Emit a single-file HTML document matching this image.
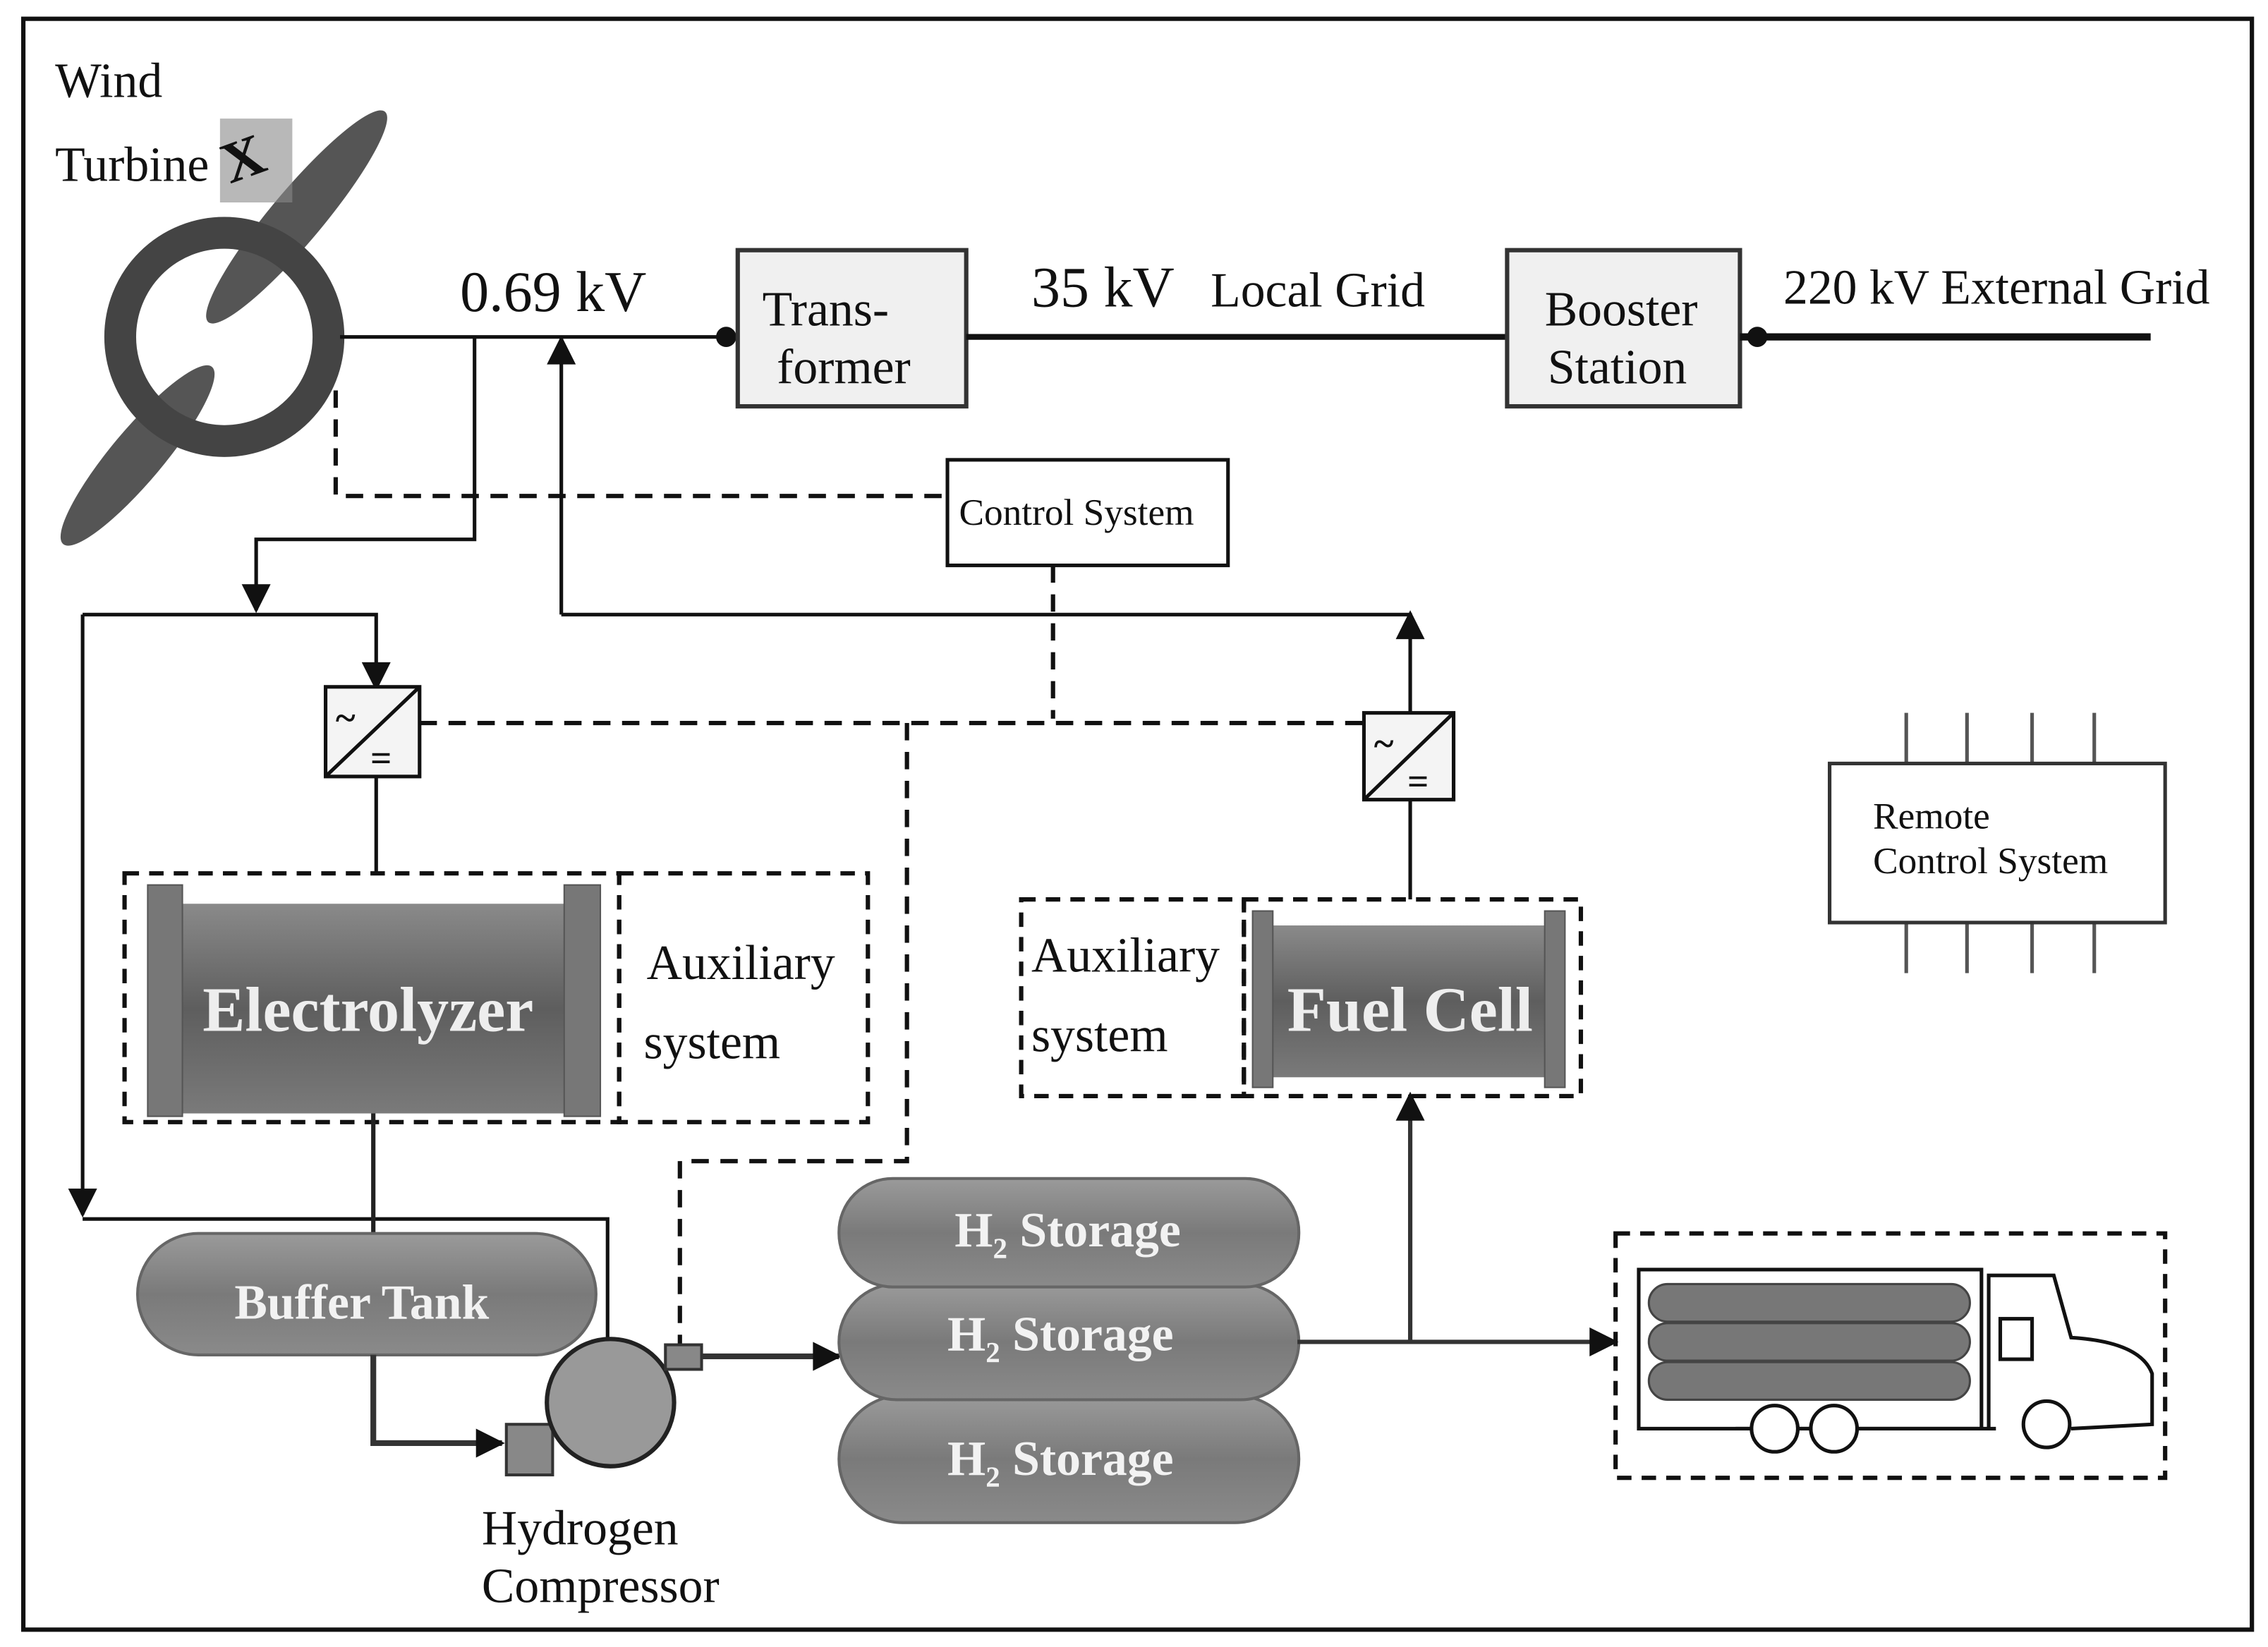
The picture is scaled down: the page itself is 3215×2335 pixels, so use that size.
<!DOCTYPE html>
<html><head><meta charset="utf-8"><style>
html,body{margin:0;padding:0;background:#fff;}
svg{display:block;}
text{font-family:"Liberation Serif",serif;}
</style></head><body>
<svg width="3215" height="2335" viewBox="0 0 1568 1139" xmlns="http://www.w3.org/2000/svg">
<defs>
<marker id="ah" viewBox="0 0 10 10" refX="9" refY="5" markerWidth="22" markerHeight="20" orient="auto-start-reverse" markerUnits="userSpaceOnUse"><path d="M0,0 L10,5 L0,10 z" fill="#111"/></marker>
<linearGradient id="g1" x1="0" y1="0" x2="0" y2="1"><stop offset="0" stop-color="#8a8a8a"/><stop offset="0.5" stop-color="#5e5e5e"/><stop offset="1" stop-color="#7a7a7a"/></linearGradient>
<linearGradient id="g2" x1="0" y1="0" x2="0" y2="1"><stop offset="0" stop-color="#9a9a9a"/><stop offset="0.5" stop-color="#7a7a7a"/><stop offset="1" stop-color="#8a8a8a"/></linearGradient>
</defs>
<rect x="0" y="0" width="1568" height="1139" fill="#fff"/>
<rect x="16" y="13" width="1541" height="1114" fill="none" stroke="#111" stroke-width="3"/>

<!-- wind turbine -->
<g>
<ellipse cx="205" cy="150" rx="18" ry="95" fill="#555" transform="rotate(40 205 150)"/>
<ellipse cx="95" cy="315" rx="18" ry="80" fill="#555" transform="rotate(40 95 315)"/>
<circle cx="155" cy="233" r="72" fill="none" stroke="#444" stroke-width="22"/>
<rect x="152" y="82" width="50" height="58" fill="#888" opacity="0.6"/>
<text x="152" y="122" font-size="40" font-weight="bold" fill="#111" transform="rotate(-20 170 105)">X</text>
</g>
<text x="38" y="67" font-size="34" fill="#111">Wind</text>
<text x="38" y="125" font-size="34" fill="#111">Turbine</text>

<!-- top line -->
<line x1="235" y1="233" x2="510" y2="233" stroke="#111" stroke-width="2.5"/>
<circle cx="502" cy="233" r="7" fill="#111"/>
<text x="318" y="215" font-size="40" fill="#111">0.69 kV</text>
<rect x="510" y="173" width="158" height="108" fill="#f0f0f0" stroke="#333" stroke-width="3"/>
<text x="527" y="225" font-size="34" fill="#111">Trans-</text>
<text x="537" y="265" font-size="34" fill="#111">former</text>
<line x1="668" y1="233" x2="1042" y2="233" stroke="#111" stroke-width="4"/>
<text x="713" y="212" font-size="40" fill="#111">35 kV</text>
<text x="837" y="212" font-size="34" fill="#111">Local Grid</text>
<rect x="1042" y="173" width="161" height="108" fill="#f0f0f0" stroke="#333" stroke-width="3"/>
<text x="1068" y="225" font-size="34" fill="#111">Booster</text>
<text x="1070" y="265" font-size="34" fill="#111">Station</text>
<line x1="1203" y1="233" x2="1487" y2="233" stroke="#111" stroke-width="5"/>
<circle cx="1215" cy="233" r="7" fill="#111"/>
<text x="1233" y="210" font-size="34" fill="#111">220 kV External Grid</text>

<!-- control system -->
<path d="M232,270 V343 H655" fill="none" stroke="#111" stroke-width="3" stroke-dasharray="12,8"/>
<rect x="655" y="318" width="194" height="73" fill="#fff" stroke="#111" stroke-width="2.5"/>
<text x="663" y="363" font-size="26" fill="#111">Control System</text>
<path d="M728,391 V497" fill="none" stroke="#111" stroke-width="3" stroke-dasharray="12,8"/>
<path d="M290,500 H942" fill="none" stroke="#111" stroke-width="3" stroke-dasharray="12,8"/>
<path d="M627,500 V803 H470 V930" fill="none" stroke="#111" stroke-width="3" stroke-dasharray="12,8"/>

<!-- power lines -->
<path d="M328,233 V373 H177 V422" fill="none" stroke="#111" stroke-width="2.5" marker-end="url(#ah)"/>
<path d="M388,425 V234" fill="none" stroke="#111" stroke-width="2.5" marker-end="url(#ah)"/>
<path d="M388,425 H975" fill="none" stroke="#111" stroke-width="2.5"/>
<path d="M975,493 V424" fill="none" stroke="#111" stroke-width="2.5" marker-end="url(#ah)"/>
<path d="M57,425 H260 V476" fill="none" stroke="#111" stroke-width="2.5" marker-end="url(#ah)"/>
<path d="M57,425 V840" fill="none" stroke="#111" stroke-width="2.5" marker-end="url(#ah)"/>
<path d="M57,843 H420 V928" fill="none" stroke="#111" stroke-width="2.5"/>

<!-- converters -->
<g stroke="#111" stroke-width="2.5" fill="#f4f4f4">
<rect x="225" y="475" width="65" height="62"/>
<line x1="225" y1="537" x2="290" y2="475"/>
<rect x="943" y="493" width="62" height="60"/>
<line x1="943" y1="553" x2="1005" y2="493"/>
</g>
<text x="232" y="505" font-size="26" font-weight="bold" fill="#111">~</text>
<text x="256" y="533" font-size="26" font-weight="bold" fill="#111">=</text>
<text x="950" y="523" font-size="26" font-weight="bold" fill="#111">~</text>
<text x="973" y="549" font-size="26" font-weight="bold" fill="#111">=</text>
<line x1="260" y1="537" x2="260" y2="603" stroke="#111" stroke-width="2.5"/>
<line x1="975" y1="553" x2="975" y2="622" stroke="#111" stroke-width="2.5"/>

<!-- electrolyzer -->
<rect x="86" y="604" width="342" height="172" fill="none" stroke="#111" stroke-width="3" stroke-dasharray="10,7"/>
<rect x="428" y="604" width="172" height="172" fill="none" stroke="#111" stroke-width="3" stroke-dasharray="10,7"/>
<rect x="110" y="625" width="295" height="145" fill="url(#g1)"/>
<rect x="102" y="612" width="24" height="160" fill="#777" stroke="#555"/>
<rect x="390" y="612" width="25" height="160" fill="#777" stroke="#555"/>
<text x="140" y="713" font-size="44" font-weight="bold" fill="#eee">Electrolyzer</text>
<text x="447" y="677" font-size="34" fill="#111">Auxiliary</text>
<text x="445" y="732" font-size="34" fill="#111">system</text>

<!-- buffer tank -->
<line x1="258" y1="770" x2="258" y2="855" stroke="#222" stroke-width="3"/>
<rect x="95" y="853" width="317" height="84" rx="42" fill="url(#g2)" stroke="#666" stroke-width="2"/>
<text x="162" y="912" font-size="34" font-weight="bold" fill="#f2f2f2">Buffer Tank</text>
<path d="M258,937 V998 H347" fill="none" stroke="#333" stroke-width="4" marker-end="url(#ah)"/>

<!-- compressor -->
<rect x="350" y="985" width="32" height="35" fill="#888" stroke="#333" stroke-width="2"/>
<circle cx="422" cy="970" r="44" fill="#999" stroke="#222" stroke-width="3"/>
<rect x="460" y="930" width="25" height="17" fill="#888" stroke="#333" stroke-width="2"/>
<path d="M485,938 H580" fill="none" stroke="#333" stroke-width="4" marker-end="url(#ah)"/>
<text x="333" y="1068" font-size="34" fill="#111">Hydrogen</text>
<text x="333" y="1108" font-size="34" fill="#111">Compressor</text>

<!-- storage -->
<g fill="url(#g2)" stroke="#666" stroke-width="2">
<rect x="580" y="965" width="318" height="88" rx="44"/>
<rect x="580" y="888" width="318" height="80" rx="40"/>
<rect x="580" y="815" width="318" height="75" rx="37"/>
</g>
<text x="660" y="862" font-size="34" font-weight="bold" fill="#f2f2f2">H<tspan font-size="20" dy="8">2</tspan><tspan dy="-8"> Storage</tspan></text>
<text x="655" y="934" font-size="34" font-weight="bold" fill="#f2f2f2">H<tspan font-size="20" dy="8">2</tspan><tspan dy="-8"> Storage</tspan></text>
<text x="655" y="1020" font-size="34" font-weight="bold" fill="#f2f2f2">H<tspan font-size="20" dy="8">2</tspan><tspan dy="-8"> Storage</tspan></text>
<path d="M897,928 H1117" fill="none" stroke="#333" stroke-width="3" marker-end="url(#ah)"/>
<path d="M975,928 V757" fill="none" stroke="#333" stroke-width="3" marker-end="url(#ah)"/>

<!-- fuel cell -->
<rect x="706" y="622" width="154" height="136" fill="none" stroke="#111" stroke-width="3" stroke-dasharray="10,7"/>
<rect x="860" y="622" width="233" height="136" fill="none" stroke="#111" stroke-width="3" stroke-dasharray="10,7"/>
<rect x="875" y="640" width="200" height="105" fill="url(#g1)"/>
<rect x="866" y="630" width="14" height="122" fill="#777" stroke="#555"/>
<rect x="1068" y="630" width="14" height="122" fill="#777" stroke="#555"/>
<text x="890" y="713" font-size="44" font-weight="bold" fill="#eee">Fuel Cell</text>
<text x="713" y="672" font-size="34" fill="#111">Auxiliary</text>
<text x="713" y="727" font-size="34" fill="#111">system</text>

<!-- remote control -->
<g stroke="#555" stroke-width="2.5">
<line x1="1318" y1="493" x2="1318" y2="528"/><line x1="1360" y1="493" x2="1360" y2="528"/>
<line x1="1405" y1="493" x2="1405" y2="528"/><line x1="1448" y1="493" x2="1448" y2="528"/>
<line x1="1318" y1="638" x2="1318" y2="673"/><line x1="1360" y1="638" x2="1360" y2="673"/>
<line x1="1405" y1="638" x2="1405" y2="673"/><line x1="1448" y1="638" x2="1448" y2="673"/>
</g>
<rect x="1265" y="528" width="232" height="110" fill="#fff" stroke="#333" stroke-width="2.5"/>
<text x="1295" y="573" font-size="26" fill="#111">Remote</text>
<text x="1295" y="604" font-size="26" fill="#111">Control System</text>

<!-- truck -->
<rect x="1117" y="853" width="380" height="169" fill="none" stroke="#111" stroke-width="3" stroke-dasharray="10,7"/>
<rect x="1133" y="878" width="237" height="110" fill="none" stroke="#111" stroke-width="2.5"/>
<g fill="#777" stroke="#444" stroke-width="1.5">
<rect x="1140" y="888" width="222" height="26" rx="13"/>
<rect x="1140" y="915" width="222" height="26" rx="13"/>
<rect x="1140" y="942" width="222" height="26" rx="13"/>
</g>
<path d="M1375,988 V882 H1420 L1432,925 Q1480,928 1488,950 V985 L1432,988" fill="none" stroke="#111" stroke-width="2.5"/>
<rect x="1383" y="912" width="22" height="28" fill="none" stroke="#111" stroke-width="2.5"/>
<line x1="1200" y1="988" x2="1380" y2="988" stroke="#111" stroke-width="2.5"/>
<g fill="#fff" stroke="#111" stroke-width="2.5">
<circle cx="1227" cy="988" r="16"/><circle cx="1268" cy="988" r="16"/><circle cx="1415" cy="985" r="16"/>
</g>
</svg>
</body></html>
